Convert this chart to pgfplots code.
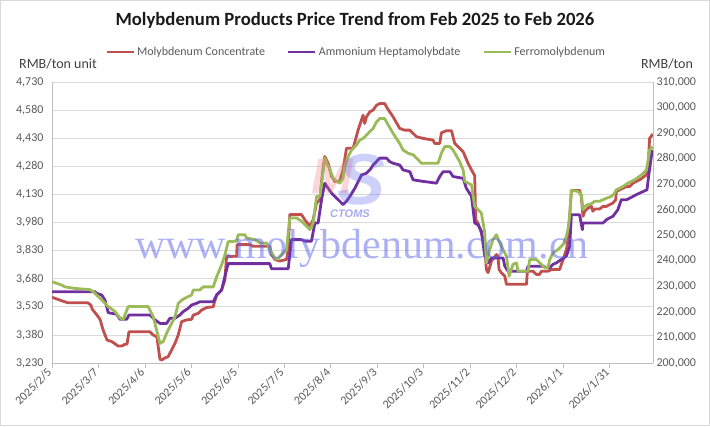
\documentclass[border=0pt]{standalone}
\usepackage{fontspec}
\setmainfont{Carlito}
\newfontfamily\wmfont{Liberation Serif}
\newfontfamily\logofont{Liberation Sans}
\usepackage{pgfplots}
\pgfplotsset{compat=1.18}
\definecolor{mored}{RGB}{192,80,77}
\definecolor{mopurple}{RGB}{112,48,160}
\definecolor{mogreen}{RGB}{155,187,89}
\definecolor{gridgray}{RGB}{217,217,217}
\definecolor{axgray}{RGB}{191,191,191}
\definecolor{txtgray}{RGB}{89,89,89}
\definecolor{wmblue}{RGB}{90,100,235}
\definecolor{wmpink}{RGB}{240,120,130}
\begin{document}
\begin{tikzpicture}[x=1bp,y=1bp]
\draw[gridgray, line width=1bp] (0.5,0.5) rectangle (709.5,425.5);
\node[font=\fontsize{18.7bp}{22bp}\selectfont\bfseries, text=black!90] at (355,406) {Molybdenum Products Price Trend from Feb 2025 to Feb 2026};
\node[font=\fontsize{14bp}{16bp}\selectfont, text=black!75] at (58,362) {RMB/ton unit};
\node[font=\fontsize{14bp}{16bp}\selectfont, text=black!75] at (667,362) {RMB/ton};
\pgfplotsset{
  mybase/.style={
    at={(52bp,63bp)}, anchor=south west, scale only axis, width=601bp, height=281bp,
    xmin=0, xmax=388,
    /pgf/number format/assume math mode=true,
    /pgf/number format/.cd, fixed, precision=0, 1000 sep={,}, /pgfplots/.cd,
    axis line style={axgray, line width=0.75bp, -},
    ytick style={draw=none},
    yticklabel style={font=\fontsize{12bp}{14bp}\selectfont, text=txtgray},
    scaled y ticks=false,
  }
}
\begin{axis}[mybase,
  axis x line*=bottom, axis y line*=left,
  ymin=3230, ymax=4730, ytick={3230,3380,...,4730},
  ymajorgrids, grid style={gridgray, line width=0.75bp},
  xtick={0,30,...,360},
  xticklabels={2025/2/5,2025/3/7,2025/4/6,2025/5/6,2025/6/5,2025/7/5,2025/8/4,2025/9/3,2025/10/3,2025/11/2,2025/12/2,2026/1/1,2026/1/31},
  xticklabel style={font=\fontsize{12bp}{14bp}\selectfont, text=txtgray, rotate=45, anchor=east},
  xtick style={axgray, line width=0.75bp}, tick align=outside, major tick length=5bp,
]
\addplot[mored, line width=2.8bp, line join=round] coordinates {
(0,3581) (5,3566) (10,3552) (23,3552) (25,3540) (26,3517) (29,3486) (31,3463) (33,3406) (35.5,3353) (38.7,3344) (42.6,3321) (45.2,3321) (47.1,3330) (48.4,3330) (49.7,3397) (63.2,3397) (65.2,3380) (67.7,3370) (69.7,3250) (70.8,3246) (72.9,3257) (75.0,3264) (77.2,3299) (79.4,3335) (81.5,3380) (83.7,3451) (86.9,3460) (90.1,3463) (91.2,3486) (94.4,3495) (96.6,3513) (99.8,3526) (104.1,3530) (104.7,3549) (106.3,3593) (109.5,3620) (111.6,3673) (112.7,3798) (119.2,3800) (119.5,3862) (127.7,3862) (129.9,3853) (140.6,3853) (141.7,3809) (143.9,3783) (147.1,3774) (151.4,3783) (152.5,3836) (153.5,4022) (161.1,4022) (163.2,3995) (166.5,3960) (168.6,3995) (170.8,4084) (172.9,4102) (174.6,4243) (176.1,4332) (178.3,4296) (180.5,4226) (182.6,4199) (185.8,4199) (187.9,4261) (190.1,4376) (194.4,4376) (197.6,4473) (200.8,4553) (201.9,4509) (203.0,4544) (205.2,4571) (207.3,4580) (209.5,4606) (211.6,4615) (214.8,4615) (215.9,4597) (220.2,4544) (224.5,4482) (227.7,4473) (231.0,4473) (235.3,4438) (239.5,4429) (246.0,4420) (247.1,4402) (250.3,4402) (251.4,4459) (254.6,4470) (257.9,4470) (260.0,4402) (262.1,4385) (265.4,4358) (268.6,4296) (270.8,4261) (272.9,4230) (273.5,3995) (275.0,3977) (277.2,3924) (279.4,3853) (280.4,3729) (281.5,3712) (283.7,3774) (286.9,3809) (287.9,3800) (288.6,3729) (290.1,3712) (292.3,3694) (293.4,3650) (306.3,3650) (306.9,3720) (310.5,3720) (312.7,3703) (314.8,3703) (315.9,3720) (320.2,3720) (322.4,3729) (327.7,3729) (329.9,3782) (332.1,3835) (333.1,3889) (334.2,4013) (335.3,4151) (340.6,4151) (341.7,4119) (342.8,4013) (343.9,4040) (346.0,4057) (348.2,4066) (349.2,4040) (350.3,4052) (353.5,4052) (355.7,4066) (357.9,4066) (360.0,4075) (362.1,4084) (363.9,4101) (364.3,4146) (366.5,4155) (368.6,4163) (370.8,4172) (372.9,4172) (375.0,4190) (379.4,4208) (383.7,4234) (384.7,4260) (385.8,4429) (387.9,4452)
};
\end{axis}
\begin{axis}[mybase,
  axis x line=none, axis y line*=right,
  ymin=200000, ymax=310000, ytick={200000,210000,...,310000},
  legend style={at={(0.506,1.107)}, anchor=center, draw=none, fill=none,
    font=\fontsize{12bp}{14bp}\selectfont, text=txtgray,
    /tikz/every even column/.append style={column sep=20bp}},
  legend columns=3, legend cell align=left,
  legend image code/.code={\draw[#1] (0bp,0bp) -- (27bp,0bp);},
]
\addlegendimage{mored, line width=2.8bp}
\addlegendentry{Molybdenum Concentrate}
\addplot[mopurple, line width=2.8bp, line join=round] coordinates {
(0,227900) (27.7,227900) (28.8,227300) (32.1,226600) (34.2,224600) (36.3,219700) (41.7,219100) (43.9,217100) (48.2,217100) (49.7,218800) (63.2,218800) (66.5,216900) (69.7,215500) (74.0,215500) (76.1,217500) (79.4,217500) (82.6,218800) (84.7,220100) (87.9,221400) (90.1,222700) (93.4,223400) (95.5,224000) (104.1,224000) (106.3,226600) (109.5,228600) (111.6,233800) (113.7,238900) (140.6,238900) (141.7,236900) (152.5,236900) (154.6,248300) (161.1,248300) (163.2,247700) (167.5,247700) (169.7,254800) (171.8,254800) (174.0,263900) (176.1,270400) (178.3,268400) (180.5,266500) (182.6,265200) (185.8,263300) (187.9,262000) (190.1,263300) (192.3,265200) (195.5,268400) (199.8,273600) (203.0,274300) (205.2,275600) (207.3,277500) (211.6,280200) (215.9,280200) (218.1,278800) (220.2,278200) (224.5,277500) (226.6,275600) (231.0,274900) (233.1,271700) (239.5,271100) (248.2,270400) (250.3,273000) (252.5,274900) (256.8,274900) (258.9,273000) (265.4,272300) (267.5,268400) (270.8,265300) (272.9,254800) (275.0,254100) (277.2,251600) (279.4,241800) (281.5,239200) (283.7,241100) (291.2,241100) (292.3,237900) (294.4,235900) (306.3,235900) (307.3,237900) (317.0,237900) (319.2,237300) (321.3,237300) (323.4,238600) (325.6,239200) (328.8,240500) (332.1,241800) (334.2,245700) (335.3,258000) (340.6,258000) (342.4,252200) (342.8,254800) (355.7,254800) (357.9,256100) (360.0,256800) (362.1,257400) (365.3,260000) (367.5,263900) (370.8,263900) (372.9,264500) (377.2,265900) (381.5,267100) (384.1,267800) (385.4,274200) (387.5,283400)
};
\addlegendentry{Ammonium Heptamolybdate}
\addplot[mogreen, line width=2.8bp, line join=round] coordinates {
(0,231800) (3,231200) (6.3,230500) (8.4,229800) (14.8,229200) (24.5,228700) (26.6,227900) (29.9,226000) (33.1,224100) (36.3,222100) (40.6,220200) (43.9,217600) (46,217100) (49.2,222100) (62.1,222100) (65.4,218100) (67.5,212900) (69.7,207700) (71.8,208400) (74.0,211700) (76.1,214200) (79.4,218100) (81.5,223300) (83.7,224600) (86.9,225700) (90.1,226600) (91.2,228600) (95.5,228600) (97.6,229800) (104.1,229800) (106.3,233800) (109.5,238400) (111.6,242200) (113.7,247500) (119.2,247700) (120.2,250200) (124.5,250200) (125.6,249000) (131.0,248300) (134.2,247000) (138.5,247000) (140.6,244400) (143.9,241100) (146.0,240600) (147.1,241800) (151.4,244400) (153.5,256800) (157.9,256800) (161.1,255500) (166.5,252200) (168.6,254800) (170.8,265200) (172.9,265200) (174.6,273000) (176.1,280200) (179.4,275600) (181.5,272400) (183.7,271100) (185.8,270400) (187.9,272400) (189.0,276900) (191.2,280800) (193.4,283400) (196.6,285400) (198.7,287300) (200.8,287900) (203.0,289200) (205.2,290600) (207.3,291800) (209.5,294400) (211.6,295700) (214.8,295700) (215.9,294400) (220.2,289900) (224.5,285900) (226.6,283400) (229.9,282100) (233.1,281500) (235.3,280200) (238.5,278200) (249.2,278200) (251.4,282100) (253.5,284700) (256.8,284700) (258.9,283400) (263.2,278800) (265.4,275600) (266.5,271100) (268.6,270400) (270.8,269700) (272.9,261300) (275.0,260000) (277.2,258700) (279.4,250900) (280.4,239200) (282.6,244400) (284.7,248300) (286.9,250200) (289.0,247000) (291.2,244400) (293.4,241800) (295.1,234000) (297.6,238600) (299.8,239200) (300.9,235900) (307.3,235900) (308.4,240500) (312.7,240500) (314.8,239200) (318.1,237300) (320.2,237300) (321.3,240500) (323.4,243100) (326.6,244400) (329.9,246300) (332.1,249600) (333.1,252200) (334.2,257400) (335.3,267500) (339.5,267200) (341.7,265900) (342.8,260000) (343.9,261300) (346.0,262000) (348.2,262300) (350.3,263300) (353.5,263300) (355.7,263900) (357.9,264500) (361.1,265200) (363.2,266500) (364.3,267800) (366.5,268400) (368.6,269100) (371.8,270400) (376.1,271700) (380.4,273600) (383.7,275500) (384.7,278800) (385.8,283400) (387.9,284700)
};
\addlegendentry{Ferromolybdenum}
\end{axis}
\node[font=\wmfont\fontsize{42bp}{48bp}\selectfont, text=wmblue, opacity=0.5, anchor=base] at (362,168) {www.molybdenum.com.cn};
\node[font=\logofont\fontsize{50bp}{50bp}\selectfont\bfseries\itshape, text=wmpink, opacity=0.3] at (332,250) {M};
\node[font=\logofont\fontsize{72bp}{72bp}\selectfont\bfseries\itshape, text=wmblue, opacity=0.3] at (362,246) {S};
\node[font=\logofont\fontsize{11bp}{12bp}\selectfont\bfseries\itshape, text=wmblue, opacity=0.55] at (350,212) {CTOMS};
\pgfresetboundingbox
\useasboundingbox (0,0) rectangle (710,426);
\end{tikzpicture}
\end{document}
